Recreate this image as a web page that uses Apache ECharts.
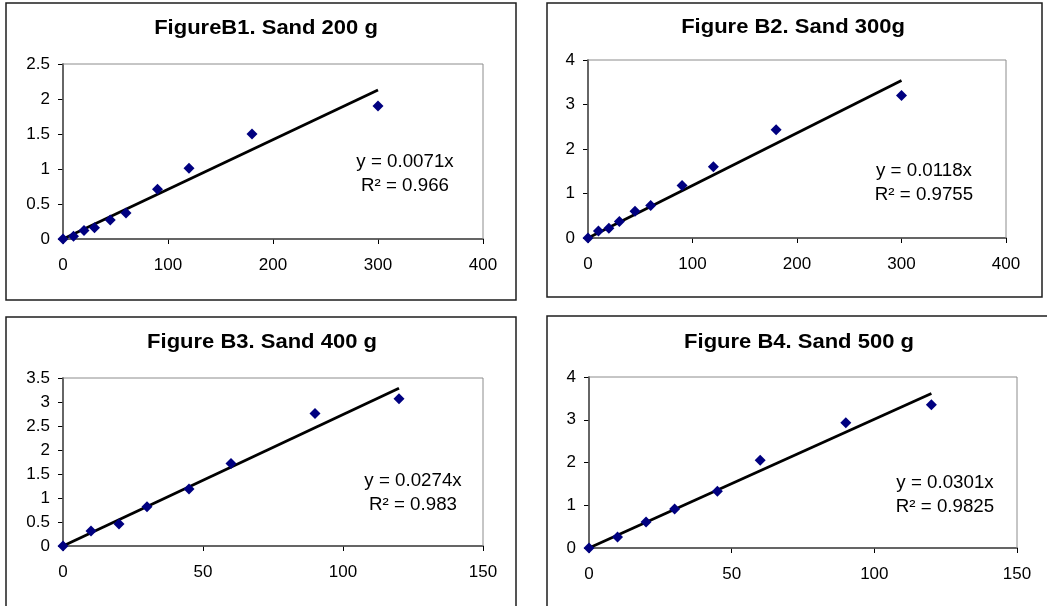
<!DOCTYPE html>
<html>
<head>
<meta charset="utf-8">
<script src="https://cdn.jsdelivr.net/npm/echarts@6/dist/echarts.min.js"></script>
<style>
  html, body { margin: 0; padding: 0; background: #ffffff; }
  #chart { width: 1047px; height: 606px; }
</style>
</head>
<body>
<div id="chart"></div>
<script>
// Panel titles
const titles = ['FigureB1. Sand 200 g', 'Figure B2. Sand 300g', 'Figure B3. Sand 400 g', 'Figure B4. Sand 500 g'];

// Measured points for each sand mass
const timeB1 = [0, 10, 20, 30, 45, 60, 90, 120, 180, 300];
const valuesB1 = [0, 0.04, 0.12, 0.16, 0.27, 0.37, 0.71, 1.01, 1.50, 1.90];
const timeB2 = [0, 10, 20, 30, 45, 60, 90, 120, 180, 300];
const valuesB2 = [0, 0.16, 0.22, 0.37, 0.60, 0.73, 1.18, 1.60, 2.43, 3.20];
const timeB3 = [0, 10, 20, 30, 45, 60, 90, 120];
const valuesB3 = [0, 0.31, 0.46, 0.82, 1.19, 1.72, 2.76, 3.07];
const timeB4 = [0, 10, 20, 30, 45, 60, 90, 120];
const valuesB4 = [0, 0.26, 0.61, 0.91, 1.33, 2.05, 2.93, 3.35];

// Linear trendlines through the origin
const slopes = [0.0071, 0.0118, 0.0274, 0.0301];
const slopeLabels = ['0.0071', '0.0118', '0.0274', '0.0301'];
const rSquared = ['0.966', '0.9755', '0.983', '0.9825'];

// Axis ranges
const xMax = [400, 400, 150, 150];
const xStep = [100, 100, 50, 50];
const yMax = [2.5, 4, 3.5, 4];
const yStep = [0.5, 1, 0.5, 1];

const times = [timeB1, timeB2, timeB3, timeB4];
const values = [valuesB1, valuesB2, valuesB3, valuesB4];

// Layout of the four panels
const panels = [
  { box: [6, 3, 510, 297], grid: { left: 63, top: 64, width: 420, height: 175 }, titleAt: [266, 28], eqAt: [405, 174] },
  { box: [547, 3, 495, 294], grid: { left: 588, top: 60, width: 418, height: 178 }, titleAt: [793, 27], eqAt: [924, 183] },
  { box: [6, 317, 510, 300], grid: { left: 63, top: 378, width: 420, height: 168 }, titleAt: [262, 342], eqAt: [413, 493] },
  { box: [547, 316, 510, 300], grid: { left: 589, top: 377, width: 428, height: 171 }, titleAt: [799, 342], eqAt: [945, 495] }
];

const FONT = '"Liberation Sans", Arial, Helvetica, sans-serif';

const grid = [], xAxis = [], yAxis = [], series = [], graphic = [];

panels.forEach((p, i) => {
  // panel frame
  graphic.push({
    type: 'rect', silent: true, z: 0,
    shape: { x: p.box[0], y: p.box[1], width: p.box[2], height: p.box[3] },
    style: { fill: '#ffffff', stroke: '#1e1e1e', lineWidth: 1.5 }
  });
  // panel title (slightly widened lettering)
  graphic.push({
    type: 'text', silent: true, z: 10,
    x: p.titleAt[0], y: p.titleAt[1], scaleX: 1.1,
    style: {
      text: titles[i], align: 'center', verticalAlign: 'middle',
      font: 'bold 20px ' + FONT, fill: '#000000'
    }
  });
  // trendline equation
  graphic.push({
    type: 'text', silent: true, z: 10,
    x: p.eqAt[0], y: p.eqAt[1], scaleX: 1.04,
    style: {
      text: 'y = ' + slopeLabels[i] + 'x\nR\u00B2 = ' + rSquared[i],
      align: 'center', verticalAlign: 'middle', lineHeight: 24,
      font: '18px ' + FONT, fill: '#000000'
    }
  });

  grid.push(Object.assign({
    show: true, backgroundColor: 'transparent',
    borderColor: '#8c8c8c', borderWidth: 1, z: 2
  }, p.grid));

  xAxis.push({
    type: 'value', gridIndex: i, min: 0, max: xMax[i], interval: xStep[i],
    axisLine: { show: true, onZero: false, lineStyle: { color: '#000000', width: 1.5 } },
    axisTick: { show: true, inside: false, length: 5, lineStyle: { color: '#000000', width: 1 } },
    splitLine: { show: false },
    axisLabel: { color: '#000000', fontSize: 17, fontFamily: FONT, margin: 18 }
  });
  yAxis.push({
    type: 'value', gridIndex: i, min: 0, max: yMax[i], interval: yStep[i],
    axisLine: { show: true, onZero: false, lineStyle: { color: '#000000', width: 1.5 } },
    axisTick: { show: true, inside: false, length: 5, lineStyle: { color: '#000000', width: 1 } },
    splitLine: { show: false },
    axisLabel: { color: '#000000', fontSize: 17, fontFamily: FONT, margin: 13 }
  });

  const pts = times[i].map((t, k) => [t, values[i][k]]);
  const tEnd = Math.max.apply(null, times[i]);

  series.push({
    type: 'line', xAxisIndex: i, yAxisIndex: i, z: 3,
    data: [[0, 0], [tEnd, slopes[i] * tEnd]],
    showSymbol: false, symbol: 'none', silent: true,
    lineStyle: { color: '#000000', width: 2.8 }
  });
  series.push({
    type: 'scatter', xAxisIndex: i, yAxisIndex: i, z: 4,
    data: pts, symbol: 'diamond', symbolSize: [11, 11],
    itemStyle: { color: '#000080', opacity: 1 }
  });
});

const chart = echarts.init(document.getElementById('chart'), null, { renderer: 'canvas' });
chart.setOption({
  animation: false,
  backgroundColor: '#ffffff',
  graphic: graphic,
  grid: grid,
  xAxis: xAxis,
  yAxis: yAxis,
  series: series
});
</script>
</body>
</html>
